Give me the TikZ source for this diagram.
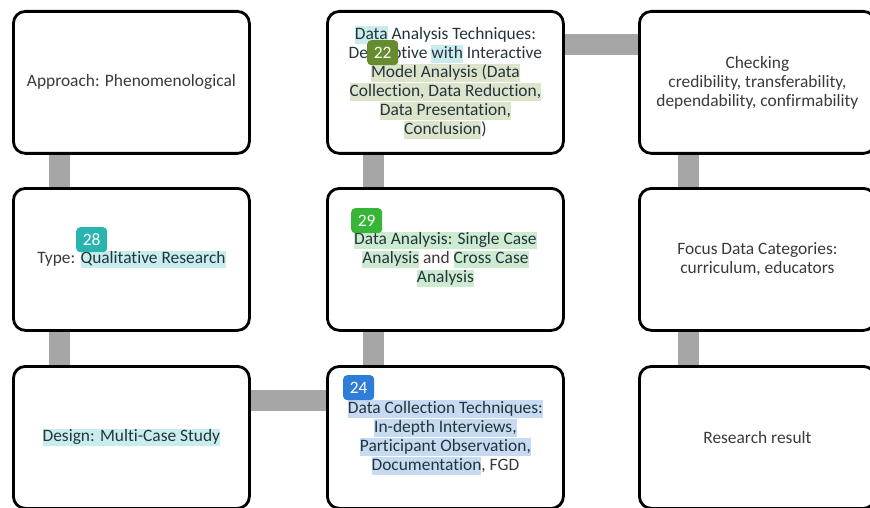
\documentclass[tikz,border=0pt]{standalone}
\usepackage{fontspec}
\setmainfont[Ligatures=NoCommon]{Carlito}
\usetikzlibrary{calc}
\pgfdeclarelayer{background}
\pgfsetlayers{background,main}

\definecolor{txt}{HTML}{3A3A3A}
\definecolor{hltxt}{HTML}{24343C}
\definecolor{hlcyan}{HTML}{C9EDED}
\definecolor{hlolive}{HTML}{DDE4CC}
\definecolor{hlgreen}{HTML}{CDEBD0}
\definecolor{hlblue}{HTML}{C6DBF1}
\definecolor{bdolive}{HTML}{678C2E}
\definecolor{bdgreen}{HTML}{36B536}
\definecolor{bdblue}{HTML}{2E7DD6}
\definecolor{bdteal}{HTML}{2AB4AF}
\definecolor{barcol}{HTML}{A6A6A6}

% highlighted run of text
\newcommand\hlt[2]{{\setlength\fboxsep{0pt}\colorbox{#1}{\color{hltxt}\rule[-4.5pt]{0pt}{17.5pt}#2}}}

\tikzset{
  box/.style={draw=black, line width=2.8pt, rounded corners=12pt, fill=white,
    minimum width=236pt, minimum height=142pt, inner sep=0pt, align=center,
    text=txt, font=\fontsize{17.4}{19}\selectfont, anchor=north west},
  badge/.style={rounded corners=4pt, minimum width=31pt, minimum height=25pt,
    inner sep=0pt, text=white, font=\fontsize{17.4}{19}\selectfont, anchor=north west},
  bar/.style={draw=barcol, line width=21pt}
}

\begin{document}
\begin{tikzpicture}[x=1pt,y=-1pt]
\useasboundingbox (0,0) rectangle (870,508);
\clip (0,0) rectangle (870,508);

% first column
\node[box] (appr) at (12,10) {Approach: Phenomenological};
\node[box] (type) at (12,187) {Type: \hlt{hlcyan}{Qualitative Research}};
\node[box] (design) at (12,365) {\hlt{hlcyan}{Design: Multi-Case Study}};

% second column
\node[box] (coll) at (326,365) {\hlt{hlblue}{Data Collection Techniques:}\\
  \hlt{hlblue}{In-depth Interviews,}\\
  \hlt{hlblue}{Participant Observation,}\\
  \hlt{hlblue}{Documentation}, FGD};
\node[box] (anal) at (326,187) {\hlt{hlgreen}{Data Analysis: Single Case}\\
  \hlt{hlgreen}{Analysis} and \hlt{hlgreen}{Cross Case}\\
  \hlt{hlgreen}{Analysis}};
\node[box, text=hltxt] (tech) at (326,10) {\hlt{hlcyan}{Data} Analysis Techniques:\\
  Descriptive \hlt{hlcyan}{with} Interactive\\
  \hlt{hlolive}{Model Analysis (Data}\\
  \hlt{hlolive}{Collection, Data Reduction,}\\
  \hlt{hlolive}{Data Presentation,}\\
  \hlt{hlolive}{Conclusion})};

% third column
\node[box] (check) at (638,10) {Checking\\
  credibility, transferability,\\
  dependability, confirmability};
\node[box] (focus) at (638,187) {Focus Data Categories:\\
  curriculum, educators};
\node[box] (result) at (638,365) {Research result};

% connecting bars behind the boxes
\begin{pgfonlayer}{background}
\fill[white] (0,0) rectangle (870,508);
\draw[bar] ($(appr.south west)+(47,0)$) -- ($(type.north west)+(47,0)$);
\draw[bar] ($(type.south west)+(47,0)$) -- ($(design.north west)+(47,0)$);
\draw[bar] ($(design.north east)+(0,35)$) -- ($(coll.north west)+(0,35)$);
\draw[bar] ($(coll.north west)+(47,0)$) -- ($(anal.south west)+(47,0)$);
\draw[bar] ($(anal.north west)+(47,0)$) -- ($(tech.south west)+(47,0)$);
\draw[bar] ($(tech.north east)+(0,35)$) -- ($(check.north west)+(0,35)$);
\draw[bar] ($(check.south west)+(50,0)$) -- ($(focus.north west)+(50,0)$);
\draw[bar] ($(focus.south west)+(50,0)$) -- ($(result.north west)+(50,0)$);
\end{pgfonlayer}

% numbered tags
\node[badge, fill=bdolive] (b22) at (367,40) {22};
\node[badge, fill=bdgreen] (b29) at (351,208) {29};
\node[badge, fill=bdblue] (b24) at (343,375) {24};
\node[badge, fill=bdteal] (b28) at (76,227) {28};
\end{tikzpicture}
\end{document}
